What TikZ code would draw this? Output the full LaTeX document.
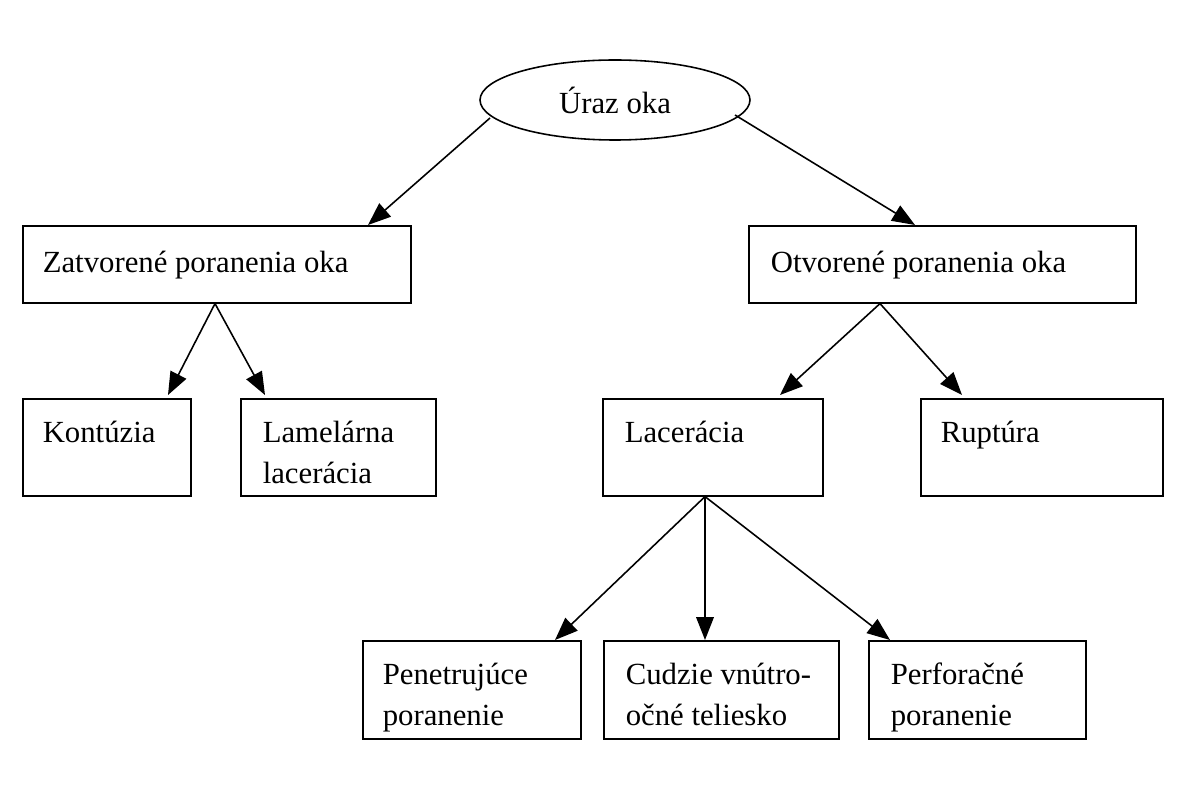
\documentclass[tikz,border=0pt]{standalone}
\usepackage{fontspec}
\setmainfont{Liberation Serif}
\usetikzlibrary{arrows.meta}
\usetikzlibrary{shapes.geometric}
\usetikzlibrary{calc}

\begin{document}
\begin{tikzpicture}[x=0.02cm, y=-0.02cm, line width=0.9pt,
        box_style/.style={draw=black, rectangle, inner sep=0pt, anchor=north west},
        text_style/.style={anchor=north west, inner sep=0pt, align=left, font=\fontsize{17.5}{23.5}\selectfont},
        edge_style/.style={draw=black, line width=0.9pt, -{Triangle[length=13pt, width=10pt]}}]

        \useasboundingbox (0,0) rectangle (1179,800);

        \node [draw, ellipse, minimum width=270*0.02cm, minimum height=80*0.02cm, font=\fontsize{17.5}{22}\selectfont](root) at (615,100) {Úraz oka};

        \node [box_style, minimum width=388*0.02cm, minimum height=77*0.02cm](zat) at (22,225) {};
        \node [text_style](zatt) at (42,250) {Zatvorené poranenia oka};

        \node [box_style, minimum width=387*0.02cm, minimum height=77*0.02cm](otv) at (748,225) {};
        \node [text_style](otvt) at (770,250) {Otvorené poranenia oka};

        \node [box_style, minimum width=168*0.02cm, minimum height=97*0.02cm](kon) at (22,398) {};
        \node [text_style](kont) at (42,420) {Kontúzia};

        \node [box_style, minimum width=195*0.02cm, minimum height=97*0.02cm](lam) at (240,398) {};
        \node [text_style](lamt) at (262,420) {Lamelárna\\lacerácia};

        \node [box_style, minimum width=220*0.02cm, minimum height=97*0.02cm](lac) at (602,398) {};
        \node [text_style](lact) at (624,420) {Lacerácia};

        \node [box_style, minimum width=242*0.02cm, minimum height=97*0.02cm](rup) at (920,398) {};
        \node [text_style](rupt) at (940,420) {Ruptúra};

        \node [box_style, minimum width=218*0.02cm, minimum height=98*0.02cm](pen) at (362,640) {};
        \node [text_style](pent) at (382,662) {Penetrujúce\\poranenie};

        \node [box_style, minimum width=235*0.02cm, minimum height=98*0.02cm](cud) at (603,640) {};
        \node [text_style](cudt) at (625,662) {Cudzie vnútro-\\očné teliesko};

        \node [box_style, minimum width=217*0.02cm, minimum height=98*0.02cm](per) at (868,640) {};
        \node [text_style](pert) at (890,662) {Perforačné\\poranenie};

        \coordinate (zs) at ($(zat.south west)+(193,0)$);
        \coordinate (os) at ($(otv.south west)+(132,0)$);
        \coordinate (ls) at ($(lac.south west)+(103,0)$);

        \draw [edge_style] (490,118) -- ($(zat.north west)+(346,0)$);
        \draw [edge_style] (735,115) -- ($(otv.north west)+(167,0)$);

        \draw [edge_style] (zs) -- ($(kon.north west)+(146,-3)$);
        \draw [edge_style] (zs) -- ($(lam.north west)+(25,-3)$);

        \draw [edge_style] (os) -- ($(lac.north west)+(178,-3)$);
        \draw [edge_style] (os) -- ($(rup.north west)+(42,-3)$);

        \draw [edge_style] (ls) -- ($(pen.north west)+(193,0)$);
        \draw [edge_style] (ls) -- ($(cud.north west)+(102,0)$);
        \draw [edge_style] (ls) -- ($(per.north west)+(22,0)$);

\end{tikzpicture}
\end{document}
